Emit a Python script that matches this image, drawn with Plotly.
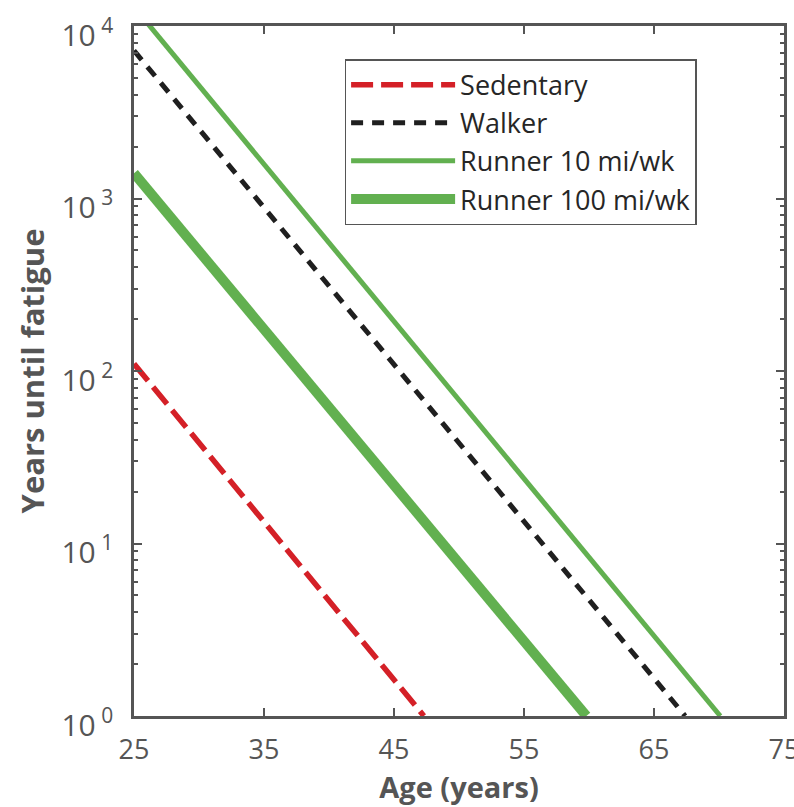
import plotly.graph_objects as go

# ---- data ----
series_names = ["Sedentary", "Walker", "Runner 10 mi/wk", "Runner 100 mi/wk"]
age_sedentary = [25, 47.3]
years_sedentary = [110, 1]
age_walker = [25, 67.4]
years_walker = [7200, 1]
age_runner10 = [25, 70.1]
years_runner10 = [12900, 1]
age_runner100 = [25, 59.8]
years_runner100 = [1400, 1]

x_ticks = [25, 35, 45, 55, 65, 75]
y_tickvals = [1, 10, 100, 1000, 10000]
y_ticktext = ["10<sup> 0</sup>", "10<sup> 1</sup>", "10<sup> 2</sup>", "10<sup> 3</sup>", "10<sup> 4</sup>"]

AX = "#555555"
FONT = "'Open Sans', Lato, sans-serif"

fig = go.Figure()
fig.add_trace(go.Scatter(x=age_sedentary, y=years_sedentary, mode="lines", name=series_names[0],
                         line=dict(color="#d42027", width=5.5, dash="22px,8px")))
fig.add_trace(go.Scatter(x=age_walker, y=years_walker, mode="lines", name=series_names[1],
                         line=dict(color="#1f1f1f", width=5, dash="12px,9px")))
fig.add_trace(go.Scatter(x=age_runner10, y=years_runner10, mode="lines", name=series_names[2],
                         line=dict(color="#62b050", width=5)))
fig.add_trace(go.Scatter(x=age_runner100, y=years_runner100, mode="lines", name=series_names[3],
                         line=dict(color="#62b050", width=10)))

fig.update_layout(
    width=794, height=807,
    margin=dict(l=134, r=10, t=26, b=91, pad=0),
    paper_bgcolor="white", plot_bgcolor="white",
    font=dict(family=FONT, color=AX),
    showlegend=True,
    legend=dict(
        x=0.324, y=0.952, xanchor="left", yanchor="top",
        bgcolor="white", bordercolor="#555555", borderwidth=1.5,
        font=dict(family=FONT, size=27, color="#262626"),
        itemwidth=104, tracegroupgap=0,
    ),
)

fig.update_xaxes(
    range=[25, 75], tickmode="array", tickvals=x_ticks, ticktext=[str(v) for v in x_ticks],
    showgrid=False, zeroline=False, showline=True, linecolor=AX, linewidth=2.5, mirror="ticks",
    ticks="inside", ticklen=8, tickwidth=2, tickcolor=AX, ticklabeloverflow="allow", automargin=False,
    tickfont=dict(size=27, color=AX, family=FONT), ticklabelstandoff=8,
    title=dict(text="<b>Age (years)</b>", font=dict(size=29, color=AX, family=FONT), standoff=5),
)
fig.update_yaxes(
    type="log", range=[0, 4], tickmode="array", tickvals=y_tickvals, ticktext=y_ticktext,
    showgrid=False, zeroline=False, showline=True, linecolor=AX, linewidth=2.5, mirror="ticks",
    ticks="inside", ticklen=8, tickwidth=2, tickcolor=AX, ticklabeloverflow="allow", automargin=False,
    minor=dict(ticks="inside", ticklen=4, tickwidth=2, tickcolor=AX, dtick="D1", showgrid=False),
    tickfont=dict(size=30, color=AX, family=FONT), ticklabelstandoff=12, ticklabelshift=9,
    title=dict(text="<b>Years until fatigue</b>", font=dict(size=31, color=AX, family=FONT), standoff=8),
)

fig.write_html("out.html")
